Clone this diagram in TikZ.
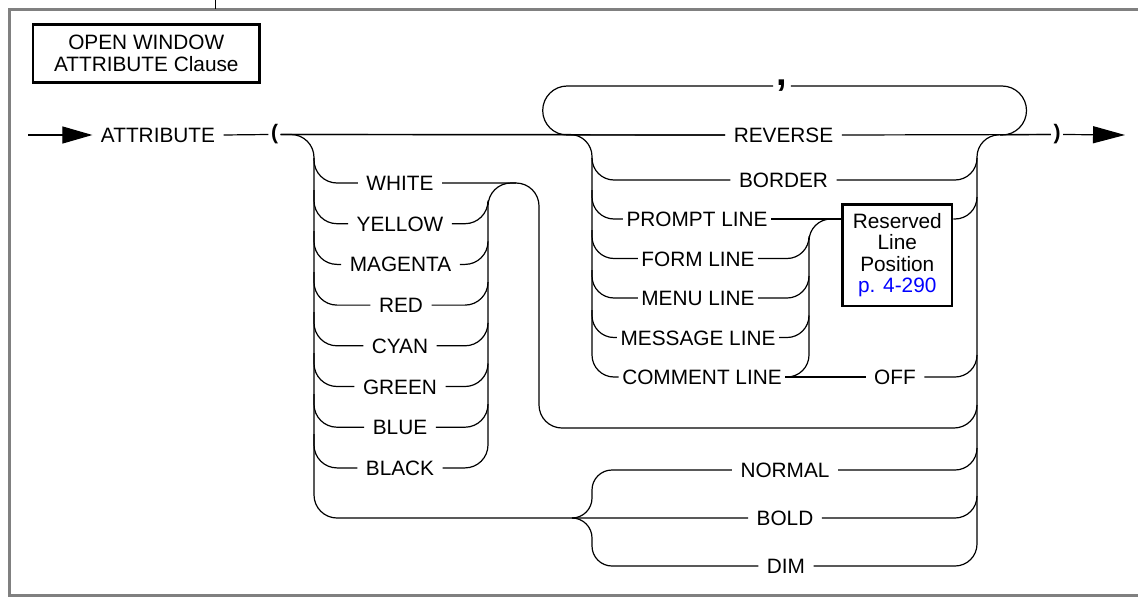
\documentclass[tikz,border=0pt]{standalone}
\usepackage{fontspec}
\setmainfont{Liberation Sans}
\usetikzlibrary{arrows.meta}
\newcommand\labfont{\fontsize{20.8}{21.4}\selectfont}
\newcommand\parfont{\fontsize{21}{22}\selectfont\bfseries}
\begin{document}
\begin{tikzpicture}[x=1pt,y=-1pt,line width=1.2pt,
  lab/.style={font=\labfont,inner xsep=8pt,inner ysep=0pt,text height=15pt,text depth=0pt},
  tight/.style={lab,inner xsep=3pt},
  par/.style={font=\parfont,inner xsep=2pt,inner ysep=0pt},
  rr/.style={rounded corners=22pt},
  rc/.style={rounded corners=23pt},
  frame/.style={draw=black!50,line width=3pt},
  box/.style={draw,line width=2.6pt,align=center,font=\labfont,inner sep=0pt}]
\useasboundingbox (0,0) rectangle (1138,597);
% frame
\draw[frame] (9,597) -- (9,9) -- (1138,9);
\draw[frame] (9,595) -- (1138,595);
\draw[line width=0.8pt] (215,0) -- (215,9);
% title
\node[box,minimum width=226.7pt,minimum height=57.6pt] (title) at (146.3,53.5) {OPEN WINDOW\\ATTRIBUTE Clause};
% main line nodes
\coordinate (start) at (28,135);
\node[lab] (attr) at (158,135) {ATTRIBUTE};
\node[par] (lp) at (274.5,134.5) {(};
\node[lab] (reverse) at (783.5,135) {REVERSE};
\node[par] (rp) at (1057,134.5) {)};
\coordinate (end) at (1125,135);
\node[font=\fontsize{38}{40}\selectfont\bfseries,inner sep=3pt] (comma) at (782,86) {,};
% option nodes
\node[lab] (border) at (783.5,180) {BORDER};
\node[tight] (prompt) at (697,219) {PROMPT LINE};
\node[tight] (form) at (698,258.5) {FORM LINE};
\node[tight] (menu) at (698,298) {MENU LINE};
\node[tight] (message) at (698,337.5) {MESSAGE LINE};
\node[tight] (comment) at (702,377) {COMMENT LINE};
\node[lab] (off) at (895,377) {OFF};
\node[box,minimum width=109.7pt,minimum height=101.6pt] (box) at (897.3,255) {Reserved\\Line\\Position\\\textcolor{blue}{p. 4-290}};
% colour nodes
\node[lab] (white) at (400,183) {WHITE};
\node[lab] (yellow) at (400,223.7) {YELLOW};
\node[lab] (magenta) at (400.5,264.4) {MAGENTA};
\node[lab] (red) at (401,305.1) {RED};
\node[lab] (cyan) at (400,345.8) {CYAN};
\node[lab] (green) at (400,386.5) {GREEN};
\node[lab] (blue) at (400,427.2) {BLUE};
\node[lab] (black) at (400,467.9) {BLACK};
\node[lab] (normal) at (785,470) {NORMAL};
\node[lab] (bold) at (785,518) {BOLD};
\node[lab] (dim) at (786,566) {DIM};
\coordinate (wj) at (516,183);
\coordinate (nj) at (572,518);
% main line
\draw[-{Triangle[length=30pt,width=17pt]}] (start) -- (attr.west);
\draw (attr.east) -- (lp.west);
\draw (lp.east) -- (reverse.west);
\draw (reverse.east) -- (rp.west);
\draw[-{Triangle[length=32pt,width=17pt]}] (rp.east) -- (end);
% comma loop
\draw[rounded corners=24.5pt] (reverse.west) -- (542.7,135) |- (comma.west);
\draw[rounded corners=24.5pt] (comma.east) -| (1026.5,135) -- (1000,135);
% options left rail
\draw[rr] (lp.east) -| (592,377) -- (comment.west);
\draw[rr] (592,158) |- (border.west);
\draw[rr] (592,190) |- (prompt.west);
\draw[rr] (592,230) |- (form.west);
\draw[rr] (592,270) |- (menu.west);
\draw[rr] (592,310) |- (message.west);
% inner rail
\draw (prompt.east) -- (box.west |- prompt.east);
\draw[rr] (comment.east) -| (809,219) -- (box.west |- prompt.east);
\draw[rr] (form.east) -| (809,236.5);
\draw[rr] (menu.east) -| (809,276);
\draw[rr] (message.east) -| (809,315.5);
\draw (comment.east) -- (off.west);
% right rail
\draw[rr] (dim.east) -| (977,135) -- (rp.west);
\draw[rr] (border.east) -| (977,158);
\draw[rr] (box.east |- prompt.east) -| (977,197);
\draw[rr] (off.east) -| (977,355);
\draw[rr] (normal.east) -| (977,448);
\draw[rr] (bold.east) -| (977,496);
% colours
\draw[rc] (lp.east) -| (314,518) -- (bold.west);
\draw[rc] (314,158) |- (white.west);
\draw[rc] (314,190) |- (yellow.west);
\draw[rc] (314,231) |- (magenta.west);
\draw[rc] (314,272) |- (red.west);
\draw[rc] (314,312) |- (cyan.west);
\draw[rc] (314,353) |- (green.west);
\draw[rc] (314,394) |- (blue.west);
\draw[rc] (314,434) |- (black.west);
\draw[rc] (black.east) -| (488,183) -- (wj);
\draw[rc] (yellow.east) -| (488,200.7);
\draw[rc] (magenta.east) -| (488,241.4);
\draw[rc] (red.east) -| (488,282.1);
\draw[rc] (cyan.east) -| (488,322.8);
\draw[rc] (green.east) -| (488,363.5);
\draw[rc] (blue.east) -| (488,404.2);
\draw[rc] (white.east) -| (539,428) -| (977,405);
% emphasis branches
\draw[rounded corners=20pt] (nj) -- (592,518) |- (normal.west);
\draw[rounded corners=20pt] (nj) -- (592,518) |- (dim.west);
\end{tikzpicture}
\end{document}
